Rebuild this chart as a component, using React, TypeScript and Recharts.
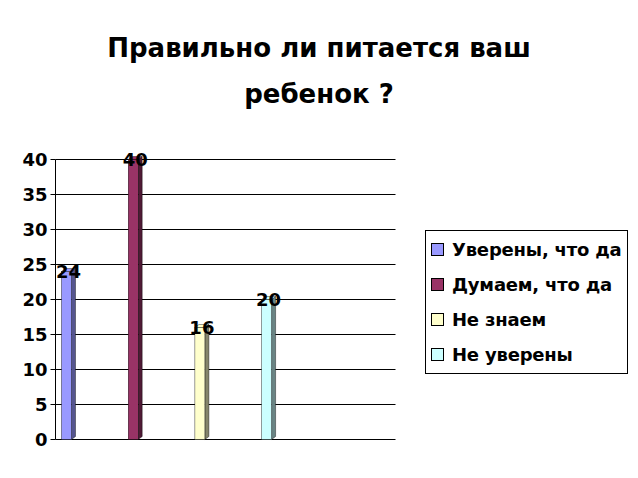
import { BarChart, Bar, XAxis, YAxis, CartesianGrid, LabelList } from 'recharts'

const categories = ['']
const seriesNames = ['Уверены, что да', 'Думаем, что да', 'Не знаем', 'Не уверены']
const seriesValues = [24, 40, 16, 20]
const yTicks = [0, 5, 10, 15, 20, 25, 30, 35, 40]

const fills = ['#9999ff', '#993366', '#ffffcc', '#ccffff']
const sides = ['#55558f', '#4f1a35', '#85856a', '#6a8585']

const data = categories.map((name) => {
  const row: Record<string, string | number> = { name }
  seriesValues.forEach((v, i) => {
    row['s' + i] = v
  })
  return row
})

const FONT = '"DejaVu Sans", Verdana, sans-serif'

function Column3D(props: any) {
  const { x, y, width, height, fill, side } = props
  const d = 4
  const h = 3
  return (
    <g>
      <polygon
        points={`${x + width},${y} ${x + width + d},${y - h} ${x + width + d},${y + height - h} ${x + width},${y + height}`}
        fill={side}
        stroke="#000"
        strokeWidth={0.4}
      />
      <polygon
        points={`${x},${y} ${x + d},${y - h} ${x + width + d},${y - h} ${x + width},${y}`}
        fill={fill}
        stroke="#000"
        strokeWidth={0.4}
      />
      <rect x={x} y={y} width={width} height={height} fill={fill} stroke="#000" strokeWidth={0.4} />
    </g>
  )
}

function ValueLabel(props: any) {
  const { x, y, width, value } = props
  return (
    <text
      x={x + width / 2 + 2}
      y={y}
      textAnchor="middle"
      dominantBaseline="central"
      fontFamily={FONT}
      fontWeight="bold"
      fontSize={18}
      fill="#000"
    >
      {value}
    </text>
  )
}

function LegendBox() {
  return (
    <div
      style={{
        position: 'absolute',
        left: 425,
        top: 230,
        border: '1px solid #000',
        background: '#fff',
        width: 203,
        height: 144,
        boxSizing: 'border-box',
        padding: '1px 0 0 5px',
        fontFamily: FONT,
        fontWeight: 'bold',
        fontSize: 18,
        letterSpacing: -0.2,
      }}
    >
      {seriesNames.map((name, i) => (
        <div key={name} style={{ display: 'flex', alignItems: 'center', height: 35 }}>
          <span
            style={{
              display: 'inline-block',
              width: 11,
              height: 11,
              background: fills[i],
              border: '1px solid #000',
              marginRight: 8,
              flexShrink: 0,
            }}
          />
          <span style={{ whiteSpace: 'nowrap' }}>{name}</span>
        </div>
      ))}
    </div>
  )
}

export default function App() {
  return (
    <div style={{ position: 'absolute', left: 0, top: 0, width: 638, height: 478, background: '#fff' }}>
      <div
        style={{
          position: 'absolute',
          left: 0,
          top: 25,
          width: 638,
          textAlign: 'center',
          fontFamily: FONT,
          fontWeight: 'bold',
          fontSize: 26,
          lineHeight: '46px',
          color: '#000',
        }}
      >
        Правильно ли питается ваш
        <br />
        ребенок ?
      </div>
      <div style={{ position: 'absolute', left: 0, top: 0 }}>
        <BarChart
          width={638}
          height={478}
          data={data}
          margin={{ top: 159.5, right: 242.5, bottom: 38.5, left: 0.5 }}
          barSize={10}
          barGap={56.7}
        >
          <CartesianGrid vertical={false} stroke="#000" strokeWidth={1} />
          <XAxis
            dataKey="name"
            height={0}
            tick={false}
            tickLine={false}
            axisLine={{ stroke: '#808080', strokeWidth: 4 }}
            padding={{ left: 0, right: 118 }}
          />
          <YAxis
            width={55}
            domain={[0, 40]}
            ticks={yTicks}
            interval={0}
            axisLine={{ stroke: '#000' }}
            tickLine={{ stroke: '#000' }}
            tickSize={5}
            tickMargin={3}
            tick={{ fill: '#000', fontFamily: FONT, fontWeight: 'bold', fontSize: 18 }}
          />
          {seriesNames.map((name, i) => (
            <Bar
              key={name}
              dataKey={'s' + i}
              name={name}
              fill={fills[i]}
              isAnimationActive={false}
              shape={(p: any) => <Column3D {...p} fill={fills[i]} side={sides[i]} />}
            >
              <LabelList dataKey={'s' + i} content={<ValueLabel />} />
            </Bar>
          ))}
        </BarChart>
      </div>
      <LegendBox />
    </div>
  )
}
